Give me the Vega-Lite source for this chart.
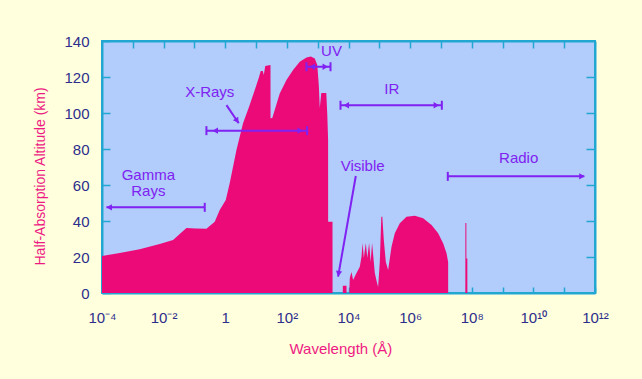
{
  "$schema": "https://vega.github.io/schema/vega-lite/v6.json",
  "width": 493,
  "height": 252,
  "autosize": {"type": "none"},
  "padding": {"left": 102, "top": 41, "right": 47, "bottom": 86},
  "background": "#FFFFDD",
  "config": {
    "view": {"fill": "#B2CCFB", "stroke": "#22A7D3", "strokeWidth": 2},
    "axis": {
      "grid": false,
      "domainColor": "#22A7D3",
      "domainWidth": 2,
      "tickColor": "#22A7D3",
      "tickWidth": 1.5,
      "labelFont": "Liberation Sans",
      "labelFontSize": 15,
      "labelColor": "#2D2D8C",
      "labelFlush": false,
      "labelOverlap": false,
      "titleFont": "Liberation Sans",
      "titleFontSize": 15,
      "titleFontWeight": "normal",
      "titleColor": "#EE1A84"
    },
    "text": {"font": "Liberation Sans"}
  },
  "datasets": {
    "curve": [
      {"wl": 0.0001, "alt": 20.6},
      {"wl": 0.000376, "alt": 22.2},
      {"wl": 0.00167, "alt": 24.3},
      {"wl": 0.00746, "alt": 27.2},
      {"wl": 0.0202, "alt": 29.4},
      {"wl": 0.055, "alt": 36.1},
      {"wl": 0.11, "alt": 35.8},
      {"wl": 0.245, "alt": 35.7},
      {"wl": 0.456, "alt": 39.6},
      {"wl": 0.662, "alt": 46.1},
      {"wl": 1.04, "alt": 51.7},
      {"wl": 1.4, "alt": 61.1},
      {"wl": 2.31, "alt": 79.4},
      {"wl": 3.78, "alt": 94.3},
      {"wl": 5.93, "alt": 103.5},
      {"wl": 9.08, "alt": 112.8},
      {"wl": 12.2, "alt": 119.4},
      {"wl": 14.2, "alt": 123.3},
      {"wl": 16.5, "alt": 123.3},
      {"wl": 17.8, "alt": 121.1},
      {"wl": 19.9, "alt": 126.1},
      {"wl": 29.4, "alt": 126.7},
      {"wl": 29.5, "alt": 97.1},
      {"wl": 33.6, "alt": 97.2},
      {"wl": 58.7, "alt": 110.9},
      {"wl": 97, "alt": 118.3},
      {"wl": 159, "alt": 123.9},
      {"wl": 262, "alt": 128.5},
      {"wl": 433, "alt": 130.9},
      {"wl": 597, "alt": 131.4},
      {"wl": 805, "alt": 130.3},
      {"wl": 970, "alt": 126.7},
      {"wl": 1086, "alt": 115.6},
      {"wl": 1169, "alt": 102.8},
      {"wl": 1309, "alt": 111.1},
      {"wl": 1901, "alt": 111.1},
      {"wl": 2051, "alt": 98.9},
      {"wl": 2178, "alt": 85},
      {"wl": 2185, "alt": 39.6},
      {"wl": 3027, "alt": 39.6},
      {"wl": 3037, "alt": 0},
      {"wl": 6531, "alt": 0},
      {"wl": 6550, "alt": 4},
      {"wl": 8610, "alt": 4},
      {"wl": 8635, "alt": 0},
      {"wl": 10620, "alt": 0},
      {"wl": 11020, "alt": 8.3},
      {"wl": 12500, "alt": 11.7},
      {"wl": 14090, "alt": 7.2},
      {"wl": 18200, "alt": 11.1},
      {"wl": 23280, "alt": 14.6},
      {"wl": 26420, "alt": 20.2},
      {"wl": 28710, "alt": 27.8},
      {"wl": 31410, "alt": 19.4},
      {"wl": 36480, "alt": 27.8},
      {"wl": 40740, "alt": 19.4},
      {"wl": 46670, "alt": 27.8},
      {"wl": 52240, "alt": 17.2},
      {"wl": 58340, "alt": 27.8},
      {"wl": 66220, "alt": 17.2},
      {"wl": 71450, "alt": 11.1},
      {"wl": 82990, "alt": 6.1},
      {"wl": 91410, "alt": 3.3},
      {"wl": 103700, "alt": 17.2},
      {"wl": 116100, "alt": 42.4},
      {"wl": 125000, "alt": 42.4},
      {"wl": 140000, "alt": 29.4},
      {"wl": 162600, "alt": 17.2},
      {"wl": 193200, "alt": 12.8},
      {"wl": 248900, "alt": 25.7},
      {"wl": 318400, "alt": 33.2},
      {"wl": 463400, "alt": 38.7},
      {"wl": 763800, "alt": 42.4},
      {"wl": 1422000, "alt": 42.9},
      {"wl": 2642000, "alt": 41.5},
      {"wl": 4955000, "alt": 37.8},
      {"wl": 8110000, "alt": 33.2},
      {"wl": 11780000, "alt": 27.6},
      {"wl": 15210000, "alt": 22.1},
      {"wl": 17140000, "alt": 17.2},
      {"wl": 17190000, "alt": 0},
      {"wl": 61940000, "alt": 0},
      {"wl": 62120000, "alt": 38.9},
      {"wl": 66830000, "alt": 38.9},
      {"wl": 67030000, "alt": 19.2},
      {"wl": 71940000, "alt": 19.2},
      {"wl": 72150000, "alt": 0},
      {"wl": 1000000000000, "alt": 0}
    ],
    "segments": [
      {"wl": 0.000139, "wl2": 0.216, "alt": 47.6, "alt2": 47.6},
      {"wl": 0.216, "wl2": 0.216, "alt": 45.1, "alt2": 50.1},
      {"wl": 0.245, "wl2": 453, "alt": 90.2, "alt2": 90.2},
      {"wl": 0.245, "wl2": 0.245, "alt": 87.7, "alt2": 92.7},
      {"wl": 453, "wl2": 453, "alt": 87.7, "alt2": 92.7},
      {"wl": 1.094, "wl2": 2.74, "alt": 104.4, "alt2": 94.3},
      {"wl": 432, "wl2": 2606, "alt": 125.7, "alt2": 125.7},
      {"wl": 432, "wl2": 432, "alt": 123.2, "alt2": 128.2},
      {"wl": 2606, "wl2": 2606, "alt": 123.2, "alt2": 128.2},
      {"wl": 5495, "wl2": 10700000, "alt": 104.3, "alt2": 104.3},
      {"wl": 5495, "wl2": 5495, "alt": 101.8, "alt2": 106.8},
      {"wl": 10700000, "wl2": 10700000, "alt": 101.8, "alt2": 106.8},
      {"wl": 17260, "wl2": 4592, "alt": 65, "alt2": 9.06},
      {"wl": 16700000, "wl2": 450000000000, "alt": 64.8, "alt2": 64.8},
      {"wl": 16700000, "wl2": 16700000, "alt": 62.3, "alt2": 67.3}
    ],
    "heads": [
      {"wl": 0.000171, "alt": 47.6, "shape": "triangle-left", "angle": 0},
      {"wl": 0.473, "alt": 90.2, "shape": "triangle-left", "angle": 0},
      {"wl": 272, "alt": 90.2, "shape": "triangle-right", "angle": 0},
      {"wl": 668, "alt": 125.7, "shape": "triangle-left", "angle": 0},
      {"wl": 1766, "alt": 125.7, "shape": "triangle-right", "angle": 0},
      {"wl": 8490, "alt": 104.3, "shape": "triangle-left", "angle": 0},
      {"wl": 7100000, "alt": 104.3, "shape": "triangle-right", "angle": 0},
      {"wl": 376000000000, "alt": 64.8, "shape": "triangle-right", "angle": 0},
      {"wl": 4764, "alt": 10.7, "shape": "triangle-down", "angle": 10},
      {"wl": 2.42, "alt": 95.7, "shape": "triangle-down", "angle": -34}
    ],
    "labels": [
      {"label": "Gamma", "wl": 0.0032, "alt": 65.3},
      {"label": "Rays", "wl": 0.0032, "alt": 56.5},
      {"label": "X-Rays", "wl": 0.314, "alt": 111.7},
      {"label": "UV", "wl": 2805, "alt": 134.4},
      {"label": "IR", "wl": 254700, "alt": 113.1},
      {"label": "Visible", "wl": 28710, "alt": 70.6},
      {"label": "Radio", "wl": 3330000000, "alt": 75}
    ]
  },
  "layer": [
    {
      "data": {"name": "curve"},
      "mark": {"type": "area", "color": "#EC0A78", "interpolate": "linear"},
      "encoding": {
        "x": {
          "field": "wl", "type": "quantitative",
          "scale": {"type": "log", "domain": [0.0001, 1000000000000]},
          "axis": {
            "orient": "bottom",
            "values": [0.0001, 0.001, 0.01, 0.1, 1, 10, 100, 1000, 10000, 100000, 1000000, 10000000, 100000000, 1000000000, 10000000000, 100000000000, 1000000000000],
            "labelExpr": "indexof([-4,-2,0,2,4,6,8,10,12], round(log(datum.value)/LN10)) < 0 ? '' : ['10⁻⁴','10⁻²','1','10²','10⁴','10⁶','10⁸','10¹⁰','10¹²'][(round(log(datum.value)/LN10)+4)/2]",
            "tickSize": -6,
            "labelPadding": 23,
            "labelBaseline": "top",
            "title": "Wavelength (Å)",
            "titleX": 187,
            "titleY": 60,
            "titleAlign": "left",
            "titleBaseline": "alphabetic"
          }
        },
        "y": {
          "field": "alt", "type": "quantitative",
          "scale": {"domain": [0, 140], "nice": false},
          "axis": {
            "orient": "left",
            "values": [0, 20, 40, 60, 80, 100, 120, 140],
            "tickSize": -8,
            "labelPadding": 21,
            "title": "Half-Absorption Altitude (km)",
            "titleFontSize": 14,
            "titleAngle": 270,
            "titleX": -58,
            "titleY": 224,
            "titleAlign": "left",
            "titleBaseline": "alphabetic"
          }
        },
        "y2": {"datum": 0}
      }
    },
    {
      "data": {"name": "segments"},
      "mark": {"type": "rule", "color": "#7F22F2", "strokeWidth": 2},
      "encoding": {
        "x": {
          "field": "wl", "type": "quantitative",
          "scale": {"type": "log", "domain": [0.0001, 1000000000000]},
          "axis": {
            "orient": "top",
            "values": [0.001, 0.01, 0.1, 1, 10, 100, 1000, 10000, 100000, 1000000, 10000000, 100000000, 1000000000, 10000000000, 100000000000],
            "labels": false,
            "tickSize": -7,
            "title": null
          }
        },
        "x2": {"field": "wl2"},
        "y": {
          "field": "alt", "type": "quantitative",
          "scale": {"domain": [0, 140], "nice": false},
          "axis": {
            "orient": "right",
            "values": [20, 40, 60, 80, 100, 120],
            "labels": false,
            "tickSize": -9,
            "title": null
          }
        },
        "y2": {"field": "alt2"}
      }
    },
    {
      "data": {"name": "heads"},
      "mark": {"type": "point", "filled": true, "size": 40, "color": "#7F22F2", "opacity": 1},
      "encoding": {
        "x": {"field": "wl", "type": "quantitative", "axis": null},
        "y": {"field": "alt", "type": "quantitative", "axis": null},
        "shape": {"field": "shape", "type": "nominal", "scale": null, "legend": null},
        "angle": {"field": "angle", "type": "quantitative", "scale": null}
      }
    },
    {
      "data": {"name": "labels"},
      "mark": {"type": "text", "color": "#7F22F2", "fontSize": 15, "align": "center", "baseline": "middle"},
      "encoding": {
        "x": {"field": "wl", "type": "quantitative", "axis": null},
        "y": {"field": "alt", "type": "quantitative", "axis": null},
        "text": {"field": "label"}
      }
    }
  ],
  "resolve": {"axis": {"x": "independent", "y": "independent"}}
}
